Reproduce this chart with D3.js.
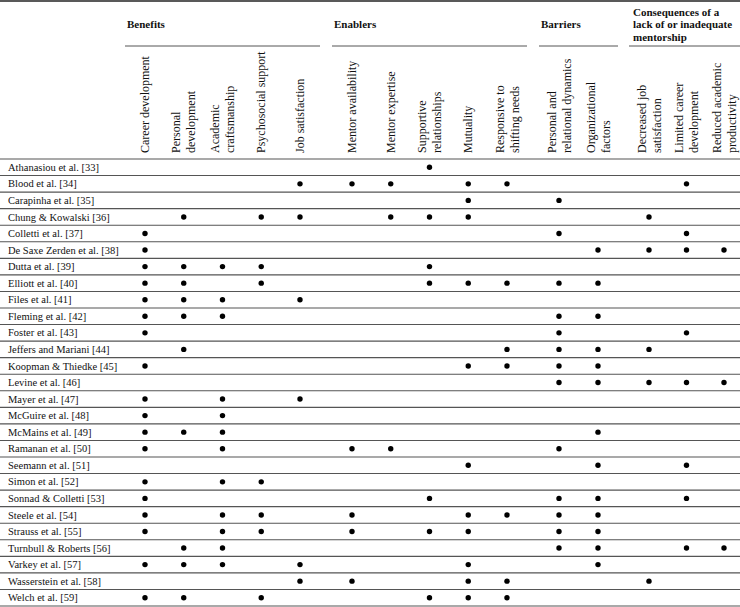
<!DOCTYPE html>
<html>
<head>
<meta charset="utf-8">
<script src="https://cdn.jsdelivr.net/npm/d3@7"></script>
<style>
  body { margin: 0; background: #fff; }
  svg { display: block; font-family: "Liberation Serif", "Times New Roman", serif; }
</style>
</head>
<body>
<div id="chart"></div>
<script>
// groups of themes, each with its columns (header lines split by "|")
const groups = ["Benefits", "Enablers", "Barriers", "Consequences of a|lack of or inadequate|mentorship"]

const benefits = ["Career development", "Personal|development", "Academic|craftsmanship",
  "Psychosocial support", "Job satisfaction"]
const enablers = ["Mentor availability", "Mentor expertise", "Supportive|relationships",
  "Mutuality", "Responsive to|shifting needs"]
const barriers = ["Personal and|relational dynamics", "Organizational|factors"]
const consequences = ["Decreased job|satisfaction", "Limited career|development",
  "Reduced academic|productivity"]

const columns = [...benefits, ...enablers, ...barriers, ...consequences]

const studies = [
  "Athanasiou et al. [33]", "Blood et al. [34]", "Carapinha et al. [35]",
  "Chung & Kowalski [36]", "Colletti et al. [37]", "De Saxe Zerden et al. [38]",
  "Dutta et al. [39]", "Elliott et al. [40]", "Files et al. [41]",
  "Fleming et al. [42]", "Foster et al. [43]", "Jeffers and Mariani [44]",
  "Koopman & Thiedke [45]", "Levine et al. [46]", "Mayer et al. [47]",
  "McGuire et al. [48]", "McMains et al. [49]", "Ramanan et al. [50]",
  "Seemann et al. [51]", "Simon et al. [52]", "Sonnad & Colletti [53]",
  "Steele et al. [54]", "Strauss et al. [55]", "Turnbull & Roberts [56]",
  "Varkey et al. [57]", "Wasserstein et al. [58]", "Welch et al. [59]"
]

// column indexes (into columns) that each study reports
const marks = [
  [7],
  [4, 5, 6, 8, 9, 13],
  [8, 10],
  [1, 3, 4, 6, 7, 8, 12],
  [0, 10, 13],
  [0, 11, 12, 13, 14],
  [0, 1, 2, 3, 7],
  [0, 1, 3, 7, 8, 9, 10, 11],
  [0, 1, 2, 4],
  [0, 1, 2, 10, 11],
  [0, 10, 13],
  [1, 9, 10, 11, 12],
  [0, 8, 9, 10, 11],
  [10, 11, 12, 13, 14],
  [0, 2, 4],
  [0, 2],
  [0, 1, 2, 11],
  [0, 2, 5, 6, 10],
  [8, 11, 13],
  [0, 2, 3],
  [0, 7, 10, 11, 13],
  [0, 2, 3, 5, 8, 9, 10, 11],
  [0, 2, 3, 5, 7, 8, 10, 11],
  [1, 2, 10, 11, 13, 14],
  [0, 1, 2, 4, 8, 11],
  [4, 5, 8, 9, 12],
  [0, 1, 3, 7, 8, 9]
]

const width = 740, height = 607
const headerBottom = 159, tableBottom = 606

const svg = d3.select("#chart").append("svg")
  .attr("width", width)
  .attr("height", height)

// one point scale per group, so the gaps between groups stay
const groupCols = [benefits, enablers, barriers, consequences]
const groupRanges = [[145, 300], [352, 507], [559, 598], [649, 724]]
const groupScales = groupCols.map((cols, i) => d3.scalePoint()
  .domain(cols).range(groupRanges[i]))
const colX = c => {
  const g = groupCols.findIndex(cols => cols.includes(c))
  return groupScales[g](c)
}

const y = d3.scaleBand()
  .domain(studies)
  .range([headerBottom, tableBottom])

// top rule
svg.append("line")
  .attr("x1", 0).attr("x2", width)
  .attr("y1", 1).attr("y2", 1)
  .attr("stroke", "#222")
  .attr("stroke-width", 1.4)

// group headers + underlines
const groupG = svg.append("g")
groups.forEach((g, i) => {
  const [a, b] = groupRanges[i]
  const lines = g.split("|")
  const x0 = i == 3 ? a - 16 : a - 18
  const t = groupG.append("text")
    .attr("x", x0)
    .attr("font-size", 11)
    .attr("font-weight", "bold")
    .attr("fill", "#111")
  lines.forEach((l, j) => {
    t.append("tspan")
      .attr("x", x0)
      .attr("y", lines.length > 1 ? 15.5 + j * 12.5 : 28)
      .text(l)
  })
  groupG.append("line")
    .attr("x1", a - 20).attr("x2", i == 3 ? width : b + 20)
    .attr("y1", 46).attr("y2", 46)
    .attr("stroke", "#555")
    .attr("stroke-width", 1)
})

// rotated column headers
const colG = svg.append("g")
  .selectAll("text")
  .data(columns)
  .join("text")
    .attr("transform", d => `translate(${colX(d)},153)rotate(-90)`)
    .attr("font-size", 12)
    .attr("fill", "#111")
colG.each(function(d) {
  const lines = d.split("|")
  lines.forEach((l, j) => {
    d3.select(this).append("tspan")
      .attr("x", 0)
      .attr("y", (j - (lines.length - 1) / 2) * 15 + 4)
      .text(l)
  })
})

// row rules
svg.append("g")
  .selectAll("line")
  .data([headerBottom, ...studies.map(s => y(s) + y.bandwidth())])
  .join("line")
    .attr("x1", 0).attr("x2", width)
    .attr("y1", d => d).attr("y2", d => d)
    .attr("stroke", "#555")
    .attr("stroke-width", 1.1)

// study labels
svg.append("g")
  .selectAll("text")
  .data(studies)
  .join("text")
    .attr("x", 8)
    .attr("y", d => y(d) + y.bandwidth() / 2 + 3.6)
    .attr("font-size", 10.5)
    .attr("fill", "#111")
    .text(d => d)

// dots
const dots = studies.flatMap((s, i) => marks[i].map(c => ({study: s, col: columns[c]})))
svg.append("g")
  .selectAll("circle")
  .data(dots)
  .join("circle")
    .attr("cx", d => colX(d.col))
    .attr("cy", d => y(d.study) + y.bandwidth() / 2)
    .attr("r", 2.7)
    .attr("fill", "#000")
</script>
</body>
</html>
